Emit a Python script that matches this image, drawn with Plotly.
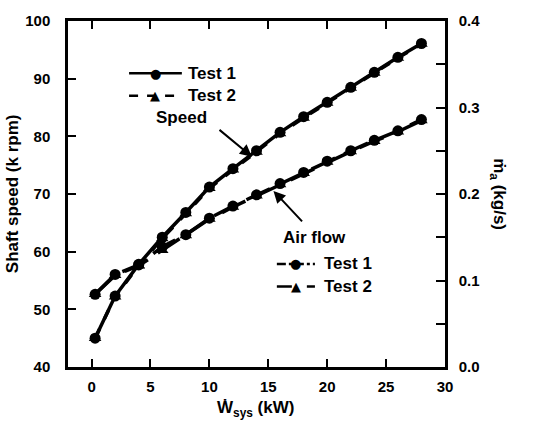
import plotly.graph_objects as go

# ---- data ----
power_kw = [0.3, 2, 4, 6, 8, 10, 12, 14, 16, 18, 20, 22, 24, 26, 28]
speed_test1 = [45.0, 52.3, 57.8, 62.5, 66.8, 71.2, 74.4, 77.5, 80.7, 83.4, 85.9, 88.5, 91.1, 93.7, 96.1]
speed_test2 = [45.0, 52.2, 57.6, 62.3, 66.6, 71.0, 74.2, 77.3, 80.5, 83.2, 85.8, 88.4, 91.0, 93.6, 96.0]
air_test1 = [0.084, 0.107, 0.118, 0.139, 0.153, 0.172, 0.186, 0.199, 0.212, 0.225, 0.238, 0.250, 0.262, 0.273, 0.286]
air_test2 = [0.084, 0.106, 0.117, 0.135, 0.152, 0.171, 0.185, 0.198, 0.211, 0.224, 0.237, 0.249, 0.261, 0.272, 0.285]

FONT = "Liberation Sans"
BLACK = "#000000"

fig = go.Figure()
fig.add_trace(go.Scatter(x=power_kw, y=speed_test1, mode="lines+markers",
                         line=dict(color=BLACK, width=3.5),
                         marker=dict(symbol="circle", size=11, color=BLACK),
                         name="Speed Test 1", showlegend=False))
fig.add_trace(go.Scatter(x=power_kw, y=speed_test2, mode="lines+markers",
                         line=dict(color=BLACK, width=3.5, dash="dash"),
                         marker=dict(symbol="triangle-up", size=11, color=BLACK),
                         name="Speed Test 2", showlegend=False))
fig.add_trace(go.Scatter(x=power_kw, y=air_test1, mode="lines+markers", yaxis="y2",
                         line=dict(color=BLACK, width=3.5, dash="26px,10px"),
                         marker=dict(symbol="circle", size=11, color=BLACK),
                         name="Air flow Test 1", showlegend=False))
fig.add_trace(go.Scatter(x=power_kw, y=air_test2, mode="lines+markers", yaxis="y2",
                         line=dict(color=BLACK, width=3.5, dash="26px,12px"),
                         marker=dict(symbol="triangle-up", size=11, color=BLACK),
                         name="Air flow Test 2", showlegend=False))

tickfont = dict(family=FONT, size=15, color=BLACK, weight="bold")
lblfont = dict(family=FONT, size=17, color=BLACK, weight="bold")

fig.update_layout(
    width=546, height=422,
    margin=dict(l=68, r=101, t=15, b=55),
    paper_bgcolor="white", plot_bgcolor="white",
    showlegend=False,
    xaxis=dict(range=[-2, 30], tickvals=[0, 5, 10, 15, 20, 25, 30],
               ticks="inside", ticklen=8, tickwidth=2, tickcolor=BLACK,
               showline=True, linewidth=2.5, linecolor=BLACK, mirror="ticks",
               showgrid=False, zeroline=False, tickfont=tickfont, ticklabelstandoff=4),
    yaxis=dict(range=[40, 100], dtick=10,
               ticks="inside", ticklen=8, tickwidth=2, tickcolor=BLACK,
               showline=True, linewidth=2.5, linecolor=BLACK,
               showgrid=False, zeroline=False, tickfont=tickfont, ticklabelstandoff=12),
    yaxis2=dict(range=[0, 0.4], tickvals=[0, 0.1, 0.2, 0.3, 0.4],
                ticktext=["0.0", "0.1", "0.2", "0.3", "0.4"],
                overlaying="y", side="right",
                ticks="inside", ticklen=9, tickwidth=2, tickcolor=BLACK,
                minor=dict(dtick=0.05, ticks="inside", ticklen=9, tickwidth=2, tickcolor=BLACK),
                showline=True, linewidth=2.5, linecolor=BLACK,
                showgrid=False, zeroline=False, tickfont=tickfont, ticklabelstandoff=8),
)

# axis titles
fig.add_annotation(xref="paper", yref="paper", x=-0.148, y=0.5, xanchor="center", yanchor="middle",
                   text="Shaft speed (k rpm)", textangle=-90, showarrow=False, font=lblfont)
fig.add_annotation(xref="paper", yref="paper", x=1.14, y=0.5, xanchor="center", yanchor="middle",
                   text="m&#775;<sub>a</sub> (kg/s)", textangle=90, showarrow=False, font=lblfont)
fig.add_annotation(xref="paper", yref="paper", x=0.497, y=-0.085, xanchor="center", yanchor="top",
                   text="W&#775;<sub>sys</sub> (kW)", showarrow=False, font=lblfont)

# in-plot legend helper
def legend_entry(x0, x1, y, dash, symbol, label, tx):
    fig.add_shape(type="line", xref="paper", yref="paper", x0=x0, x1=x1, y0=y, y1=y,
                  line=dict(color=BLACK, width=2.5, dash=dash))
    fig.add_annotation(xref="paper", yref="paper", x=(x0 + x1) / 2, y=y, text=symbol,
                       xanchor="center", yanchor="middle",
                       showarrow=False, font=dict(family="DejaVu Sans", size=13, color=BLACK))
    fig.add_annotation(xref="paper", yref="paper", x=tx, y=y, xanchor="left", yanchor="middle",
                       text=label, showarrow=False, font=lblfont)

legend_entry(0.162, 0.302, 0.849, "solid", "●", "Test 1", 0.312)
legend_entry(0.162, 0.302, 0.784, "dash", "▲", "Test 2", 0.312)
fig.add_annotation(xref="paper", yref="paper", x=0.30, y=0.722, text="Speed",
                   xanchor="center", yanchor="middle", showarrow=False, font=lblfont)
fig.add_annotation(xref="paper", yref="paper", x=0.488, y=0.608, ax=-34, ay=-28,
                   axref="pixel", ayref="pixel", showarrow=True, arrowhead=2, arrowsize=1.2,
                   arrowwidth=2, arrowcolor=BLACK, text="")

fig.add_annotation(xref="paper", yref="paper", x=0.655, y=0.375, text="Air flow",
                   xanchor="center", yanchor="middle", showarrow=False, font=lblfont)
fig.add_annotation(xref="paper", yref="paper", x=0.545, y=0.509, ax=30, ay=32,
                   axref="pixel", ayref="pixel", showarrow=True, arrowhead=2, arrowsize=1.2,
                   arrowwidth=2, arrowcolor=BLACK, text="")
legend_entry(0.554, 0.655, 0.298, "dashdot", "●", "Test 1", 0.675)
legend_entry(0.554, 0.655, 0.233, "longdash", "▲", "Test 2", 0.675)

fig.write_html("out.html", config={"displayModeBar": False},
               post_script="document.body.style.margin='0';")
